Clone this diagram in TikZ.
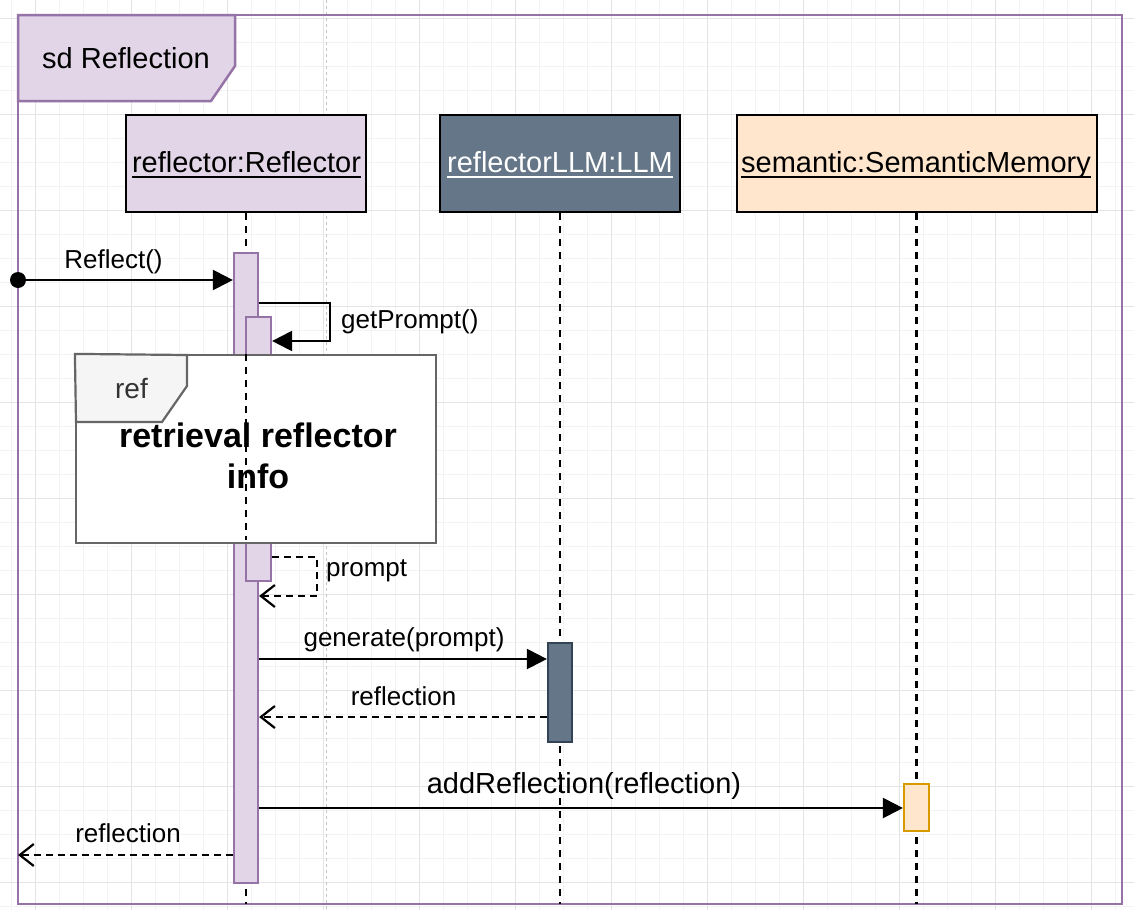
\documentclass[tikz,border=0pt]{standalone}
\usepackage{fontspec}
\setmainfont{Liberation Sans}
\usetikzlibrary{arrows.meta}
\definecolor{purpFill}{HTML}{E1D5E7}
\definecolor{purpLine}{HTML}{9673A6}
\definecolor{slate}{HTML}{647687}
\definecolor{slateLine}{HTML}{314354}
\definecolor{peach}{HTML}{FFE6CC}
\definecolor{peachLine}{HTML}{D79B00}
\definecolor{refLine}{HTML}{666666}
\definecolor{refTab}{HTML}{F5F5F5}
\definecolor{refText}{HTML}{333333}
\definecolor{gridMajor}{HTML}{E4E4E4}
\definecolor{gridMinor}{HTML}{F3F3F3}
\definecolor{pageLine}{HTML}{C4C4C4}
\tikzset{
  hdr/.style={draw=black, line width=2.2pt, minimum width=240pt, minimum height=97pt, inner sep=0pt},
  act/.style={line width=2.2pt, inner sep=0pt},
  msg/.style={line width=2.2pt, -{Triangle[length=20pt,width=20pt]}},
  ret/.style={line width=2.2pt, dash pattern=on 7pt off 5pt, -{Straight Barb[length=14pt,width=22pt,line width=2.2pt]}},
  lifeline/.style={line width=2.2pt, dash pattern=on 7pt off 6pt},
  lbl/.style={font=\fontsize{26}{30}\selectfont, anchor=base, inner sep=0pt},
  hlbl/.style={font=\fontsize{29}{34}\selectfont, anchor=base, inner sep=0pt},
  uline/.style={line width=1.8pt}
}
\begin{document}
\begin{tikzpicture}[x=1pt,y=-1pt]
\useasboundingbox (0,0) rectangle (1134,910);
\fill[white] (0,0) rectangle (1134,910);
% grid
\foreach \x in {11,35,...,1134} \draw[gridMinor, line width=1pt] (\x,0) -- (\x,910);
\foreach \y in {18,42,...,910} \draw[gridMinor, line width=1pt] (0,\y) -- (1134,\y);
\foreach \x in {35,131,...,1134} \draw[gridMajor, line width=1pt] (\x,0) -- (\x,910);
\foreach \y in {18,114,...,910} \draw[gridMajor, line width=1pt] (0,\y) -- (1134,\y);
\draw[pageLine, line width=1pt, dash pattern=on 3pt off 3pt] (326,0) -- (326,910);

% outer frame
\draw[purpLine, line width=2.5pt] (18,15) rectangle (1122,904);
\draw[purpLine, fill=purpFill, line width=2.5pt] (18,15) -- (235,15) -- (235,66) -- (211,101) -- (18,101) -- cycle;
\node[font=\fontsize{29}{34}\selectfont, anchor=base, inner sep=0pt] (title) at (126,68) {sd Reflection};

% lifeline headers
\node[hdr, fill=purpFill] (refl) at (246,163.5) {};
\node[hdr, fill=slate] (llm) at (560,163.5) {};
\node[hdr, fill=peach, minimum width=360pt] (sem) at (917,163.5) {};
\coordinate (reflEnd) at (246,904);
\coordinate (llmEnd) at (560,904);
\coordinate (semEnd) at (916.5,904);
\draw[lifeline] (refl.south) -- (reflEnd);
\draw[lifeline] (llm.south) -- (llmEnd);
\draw[lifeline] (semEnd |- sem.south) -- (semEnd);

\node[hlbl] (reflT) at (246.5,172) {reflector:Reflector};
\draw[uline] ([yshift=-5pt]reflT.base west) -- ([yshift=-5pt]reflT.base east);
\node[hlbl, text=white] (llmT) at (560,172) {reflectorLLM:LLM};
\draw[uline, white] ([yshift=-5pt]llmT.base west) -- ([yshift=-5pt]llmT.base east);
\node[hlbl] (semT) at (916,172) {semantic:SemanticMemory};
\draw[uline] ([yshift=-5pt]semT.base west) -- ([yshift=-5pt]semT.base east);

% activations
\node[act, draw=purpLine, fill=purpFill, minimum width=24pt, minimum height=630pt] (a1) at (246,568) {};
\node[act, draw=purpLine, fill=purpFill, minimum width=25pt, minimum height=264pt] (a2) at (258.5,449) {};
\node[act, draw=slateLine, fill=slate, minimum width=24pt, minimum height=99pt] (a3) at (560,692.5) {};
\node[act, draw=peachLine, fill=peach, minimum width=25pt, minimum height=47pt] (a4) at (916.5,807.5) {};

% messages
\node[circle, fill=black, inner sep=0pt, minimum size=16pt] (start) at (18,280) {};
\draw[msg] (start.center) -- (a1.west |- start.center);
\node[lbl] (m1) at (113.5,268) {Reflect()};

\coordinate (gp1) at (330,303);
\coordinate (gp2) at (330,341);
\draw[msg] (a1.east |- gp1) -- (gp1) -- (gp2) -- (a2.east |- gp2);
\node[lbl, anchor=base west] (m2) at (341,328) {getPrompt()};

\coordinate (pr1) at (317,557);
\coordinate (pr2) at (317,596);
\draw[ret] (a2.east |- pr1) -- (pr1) -- (pr2) -- (a1.east |- pr2);
\node[lbl, anchor=base west] (m3) at (326,576) {prompt};

\coordinate (g1) at (400,659);
\draw[msg] (a1.east |- g1) -- (a3.west |- g1);
\node[lbl] (m4) at (404,646) {generate(prompt)};

\coordinate (r1) at (400,717);
\draw[ret] (a3.west |- r1) -- (a1.east |- r1);
\node[lbl] (m5) at (403.5,705) {reflection};

\coordinate (ad1) at (600,808);
\draw[msg] (a1.east |- ad1) -- (a4.west |- ad1);
\node[hlbl] (m6) at (584,793) {addReflection(reflection)};

\coordinate (out) at (18,855);
\draw[ret] (a1.west |- out) -- (out);
\node[lbl] (m7) at (128,842) {reflection};

% ref fragment
\node[draw=refLine, fill=white, line width=2.2pt, minimum width=360pt, minimum height=188pt, inner sep=0pt] (ref) at (256,449) {};
\draw[refLine, fill=refTab, line width=2.2pt] (ref.north west) -- (187,355) -- (187,386) -- (162,422) -- (76,422) -- cycle;
\node[font=\fontsize{28}{32}\selectfont, text=refText, anchor=base, inner sep=0pt] (refT) at (131.5,398) {ref};
\draw[lifeline] (a1.center |- ref.north) -- ([yshift=4pt]a1.center |- ref.south);
\node[font=\fontsize{34}{41}\selectfont\bfseries, anchor=base, inner sep=0pt] (refL1) at (258,447) {retrieval reflector};
\node[font=\fontsize{34}{41}\selectfont\bfseries, anchor=base, inner sep=0pt] (refL2) at (258,488) {info};
\end{tikzpicture}
\end{document}
